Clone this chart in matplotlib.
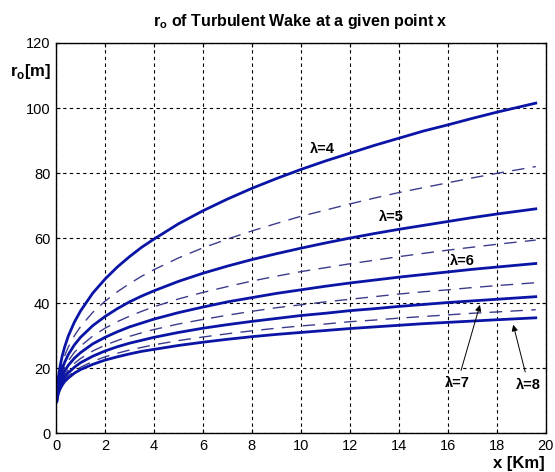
import matplotlib
matplotlib.use("Agg")
import matplotlib.pyplot as plt

plt.rcParams['font.family'] = ['Liberation Sans', 'DejaVu Sans']
plt.rcParams['mathtext.fontset'] = 'custom'
plt.rcParams['mathtext.rm'] = 'Liberation Sans:bold'
plt.rcParams['mathtext.bf'] = 'Liberation Sans:bold'

# distance downstream [km]
x_km = [0.03, 0.05, 0.1, 0.17, 0.25, 0.35, 0.5, 0.75, 1, 1.5, 2, 2.5, 3, 3.5, 4,
        5, 6, 7, 8, 9, 10, 11, 12, 13, 14, 15, 16, 17, 18, 19.6]

# wake radius r_o [m], solid curves (lambda = 4..8)
r_l4 = [11.7, 13.9, 17.5, 20.8, 23.7, 26.5, 29.9, 34.2, 37.6, 43.1, 47.4, 51.1, 54.3, 57.2, 59.7,
        64.4, 68.4, 72.0, 75.3, 78.3, 81.1, 83.7, 86.1, 88.5, 90.7, 92.9, 94.8, 96.8, 98.7, 101.5]
r_l5 = [10.8, 12.5, 15.3, 17.8, 19.8, 21.8, 24.2, 27.2, 29.5, 33.1, 35.9, 38.3, 40.4, 42.2, 43.8,
        46.7, 49.2, 51.4, 53.4, 55.2, 56.9, 58.5, 60.0, 61.4, 62.7, 63.9, 65.1, 66.3, 67.4, 69.0]
r_l6 = [10.3, 11.7, 14.0, 15.9, 17.5, 19.1, 20.9, 23.1, 24.8, 27.5, 29.5, 31.2, 32.7, 33.9, 35.1,
        37.1, 38.8, 40.4, 41.7, 43.0, 44.1, 45.2, 46.2, 47.1, 48.0, 48.8, 49.6, 50.4, 51.1, 52.2]
r_l7 = [9.9, 11.1, 13.0, 14.6, 15.9, 17.2, 18.6, 20.3, 21.7, 23.7, 25.3, 26.6, 27.7, 28.6, 29.5,
        31.0, 32.3, 33.4, 34.4, 35.3, 36.2, 36.9, 37.7, 38.3, 39.0, 39.6, 40.2, 40.7, 41.2, 42.0]
r_l8 = [9.7, 10.8, 12.4, 13.7, 14.8, 15.9, 17.0, 18.5, 19.6, 21.2, 22.5, 23.5, 24.4, 25.2, 25.8,
        27.0, 28.0, 28.9, 29.7, 30.4, 31.0, 31.6, 32.2, 32.7, 33.2, 33.7, 34.1, 34.5, 34.9, 35.5]

# dashed curves in between (lambda = 4.5, 5.5, 6.5, 7.5)
r_l45 = [11.2, 13.1, 16.2, 19.0, 21.4, 23.8, 26.5, 30.0, 32.8, 37.2, 40.6, 43.5, 46.0, 48.3, 50.3,
         53.9, 57.0, 59.7, 62.2, 64.5, 66.7, 68.6, 70.5, 72.3, 74.0, 75.5, 77.0, 78.5, 79.9, 82.0]
r_l55 = [10.5, 12.1, 14.5, 16.7, 18.6, 20.3, 22.3, 24.9, 26.8, 29.9, 32.3, 34.3, 36.0, 37.5, 38.9,
         41.3, 43.3, 45.1, 46.8, 48.3, 49.7, 50.9, 52.1, 53.2, 54.3, 55.3, 56.3, 57.2, 58.1, 59.4]
r_l65 = [10.1, 11.4, 13.4, 15.1, 16.6, 18.0, 19.5, 21.5, 23.0, 25.3, 27.1, 28.5, 29.8, 30.9, 31.9,
         33.6, 35.0, 36.3, 37.5, 38.6, 39.5, 40.4, 41.2, 42.0, 42.8, 43.5, 44.1, 44.8, 45.4, 46.3]
r_l75 = [9.7, 10.8, 12.5, 14.0, 15.2, 16.3, 17.6, 19.1, 20.3, 22.1, 23.5, 24.6, 25.6, 26.4, 27.2,
         28.5, 29.6, 30.6, 31.5, 32.3, 33.0, 33.6, 34.3, 34.8, 35.4, 35.9, 36.4, 36.9, 37.3, 38.0]

solid_curves = [r_l4, r_l5, r_l6, r_l7, r_l8]
dashed_curves = [r_l45, r_l55, r_l65, r_l75]

x_ticks = [0, 2, 4, 6, 8, 10, 12, 14, 16, 18, 20]
y_ticks = [0, 20, 40, 60, 80, 100, 120]

fig = plt.figure(figsize=(5.55, 4.72), dpi=100)
ax = fig.add_axes([0.101, 0.082, 0.882, 0.827])

for r in dashed_curves:
    ax.plot(x_km, r, color='#3c3c8c', lw=1.0, dashes=(9, 6))
for r in solid_curves:
    ax.plot(x_km, r, color='#0a14a5', lw=2.0)

ax.set_xlim(0, 20)
ax.set_ylim(0, 120)
ax.set_xticks(x_ticks)
ax.set_yticks(y_ticks)
ax.tick_params(direction='in', length=3, labelsize=10.5, top=True, right=True, pad=4)
ax.grid(True, color='black', ls=(0, (3, 3)), lw=0.8)
for s in ax.spines.values():
    s.set_linewidth(1.0)

ax.set_title(r'r$_\mathrm{o}$ of Turbulent Wake at a given point x',
             fontsize=11.5, fontweight='bold', pad=12)
fig.text(0.018, 0.84, r'r$_\mathrm{o}$[m]', fontsize=12, fontweight='bold')
fig.text(0.982, 0.008, 'x [Km]', fontsize=12, fontweight='bold', ha='right')

ax.text(10.9, 87.5, 'λ=4', fontsize=10.5, fontweight='bold', ha='center', va='center')
ax.text(13.7, 66.5, 'λ=5', fontsize=10.5, fontweight='bold', ha='center', va='center')
ax.text(16.6, 53.0, 'λ=6', fontsize=10.5, fontweight='bold', ha='center', va='center')
ax.annotate('λ=7', xy=(17.35, 40.3), xytext=(16.4, 15.5), fontsize=10.5, fontweight='bold',
            ha='center', va='center',
            arrowprops=dict(arrowstyle='-|>', color='black', lw=0.7, mutation_scale=9))
ax.annotate('λ=8', xy=(18.65, 34.2), xytext=(19.3, 15.0), fontsize=10.5, fontweight='bold',
            ha='center', va='center',
            arrowprops=dict(arrowstyle='-|>', color='black', lw=0.7, mutation_scale=9))

fig.savefig('out.png', dpi=100)
